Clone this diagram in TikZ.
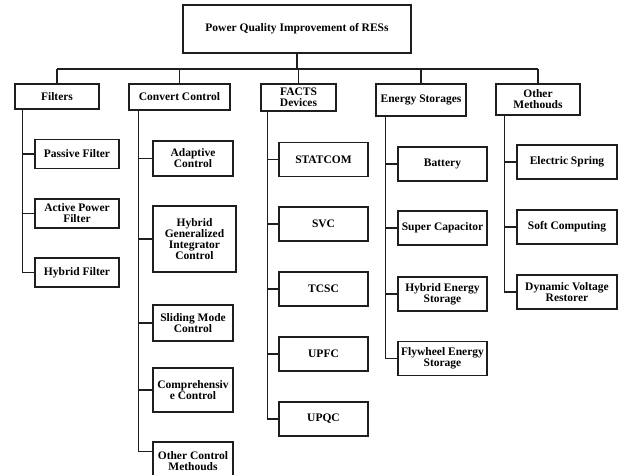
\documentclass[tikz,border=0pt]{standalone}
\usepackage{fontspec}
\setmainfont{Liberation Serif}
\usepackage{tikz}
\usetikzlibrary{calc}
\definecolor{LineGray}{HTML}{1e1e1e}

\tikzset{
  box/.style={draw=LineGray, line width=1.2pt, align=center, inner sep=1pt,
    font=\bfseries\fontsize{11.5}{11}\selectfont},
  link/.style={draw=LineGray, line width=1.3pt}
}

\begin{document}
\begin{tikzpicture}[x=1pt, y=-1pt]
  \useasboundingbox (0,0) rectangle (621,474);

  % root
  \node[box, minimum width=228pt, minimum height=48pt] (root) at (297,29) {Power Quality Improvement of RESs};

  % main groups
\begin{scope}[every node/.append style={box}]
  \node[minimum width=84pt,  minimum height=25pt] (filters) at (57,96.5)  {Filters};
  \node[minimum width=101pt, minimum height=26pt] (convert) at (179.5,97) {Convert Control};
  \node[minimum width=75pt,  minimum height=27pt] (facts)   at (298.5,97.5) {FACTS\\Devices};
  \node[minimum width=90pt,  minimum height=32pt] (storage) at (421,100)  {Energy Storages};
  \node[minimum width=84pt,  minimum height=31pt] (other)   at (538,99.5) {Other\\Methouds};
\end{scope}

  % filters
\begin{scope}[every node/.append style={box, minimum width=84pt, minimum height=29pt}]
  \node (passive) at (77,154)   {Passive Filter};
  \node (active)  at (77,213.5) {Active Power\\Filter};
  \node (hybfil)  at (77,272.5) {Hybrid Filter};
\end{scope}

  % converter control
\begin{scope}[every node/.append style={box, minimum width=80pt}]
  \node[minimum height=35pt] (adaptive) at (193,158.5) {Adaptive\\Control};
  \node[minimum width=83pt, minimum height=66pt] (hgic) at (194.5,239) {Hybrid\\Generalized\\Integrator\\Control};
  \node[minimum height=36pt] (sliding)  at (193,323) {Sliding Mode\\Control};
  \node[minimum height=44pt] (compre)   at (193,390) {Comprehensiv\\e Control};
  \node[minimum height=38pt] (otherctl) at (193,461) {Other Control\\Methouds};
\end{scope}

  % FACTS
\begin{scope}[every node/.append style={box, minimum width=89pt, minimum height=34pt}]
  \node (statcom) at (323.5,159.5) {STATCOM};
  \node (svc)     at (323.5,224)   {SVC};
  \node (tcsc)    at (323.5,289)   {TCSC};
  \node (upfc)    at (323.5,354)   {UPFC};
  \node (upqc)    at (323.5,419)   {UPQC};
\end{scope}

  % storages
\begin{scope}[every node/.append style={box, minimum width=89pt, minimum height=34pt}]
  \node (battery)  at (442.5,164)   {Battery};
  \node (supercap) at (442.5,228)   {Super Capacitor};
  \node (hybstore) at (442.5,294)   {Hybrid Energy\\Storage};
  \node (flywheel) at (442.5,358.5) {Flywheel Energy\\Storage};
\end{scope}

  % other methods
\begin{scope}[every node/.append style={box, minimum width=100pt, minimum height=34pt}]
  \node (spring)  at (567,162) {Electric Spring};
  \node (softcmp) at (567,227) {Soft Computing};
  \node (dvr)     at (567,292) {Dynamic Voltage\\Restorer};
\end{scope}

  % bus from the root
  \draw[link, line width=2pt] (root.south) -- (root.south |- 0,69) coordinate (bus);
  \draw[link] (filters.north |- bus) -- (other.north |- bus);
  \foreach \g in {filters, convert, facts, storage, other}
    \draw[link] (\g.north |- bus) -- (\g.north);

  % branches
  \foreach \g/\dx/\kids in {filters/8/{passive,active,hybfil},
      convert/10/{adaptive,hgic,sliding,compre},
      facts/7/{statcom,svc,tcsc,upfc,upqc},
      storage/10/{battery,supercap,hybstore,flywheel},
      other/9/{spring,softcmp,dvr}}
    \foreach \k in \kids
      \draw[link] ([xshift=\dx pt]\g.south west) |- (\k.west);
  \draw[link] ([xshift=10pt]convert.south west) |- ($(otherctl.north west)!0.5!(otherctl.west)$);
\end{tikzpicture}
\end{document}
